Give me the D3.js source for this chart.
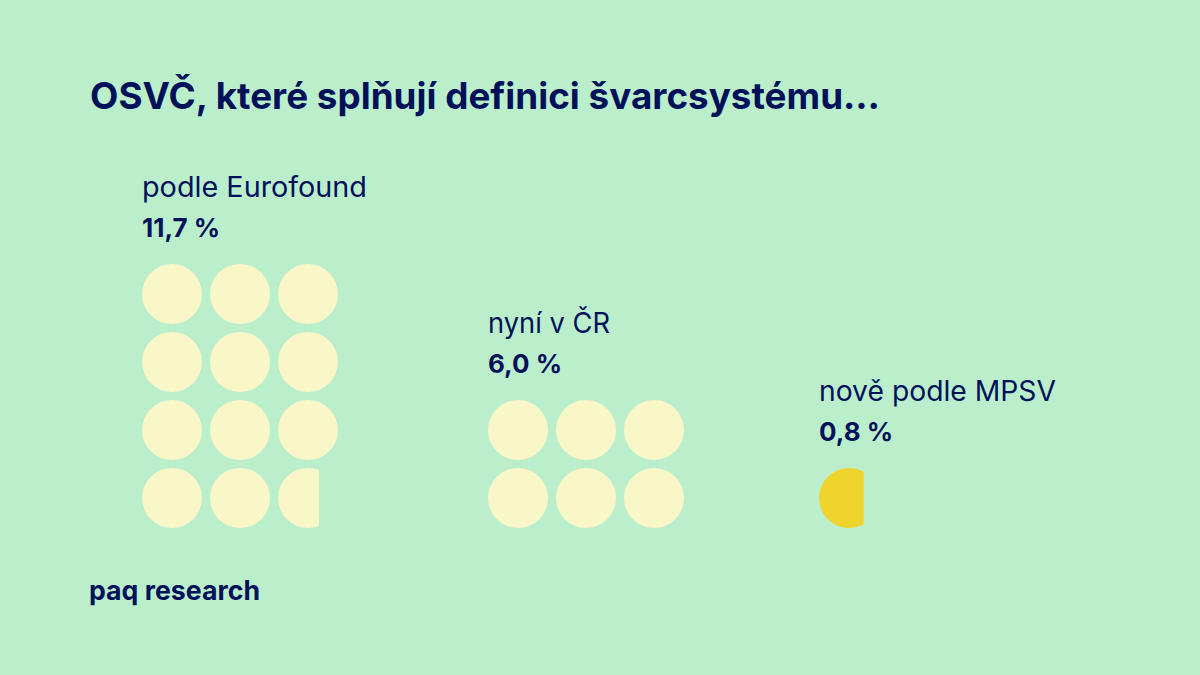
<!DOCTYPE html>
<html>
<head>
<meta charset="utf-8">
<script src="https://cdn.jsdelivr.net/npm/d3@7"></script>
<style>
  html, body { margin: 0; padding: 0; background: #bbefcc; }
  text { font-family: Inter, sans-serif; fill: #00115a; }
</style>
</head>
<body>
<svg id="chart" width="1200" height="675"></svg>
<script>
// values
var groupNames = ["podle Eurofound", "nyní v ČR", "nově podle MPSV"];
var groupValues = [11.7, 6.0, 0.8];
var groupColors = ["#f9f7c8", "#f9f7c8", "#f0d42e"];

var svg = d3.select("#chart");
var bottom = 528, size = 60, step = 68, rows = 3;

var xLeft = d3.scaleOrdinal().domain(groupNames).range([142, 488, 819]);
var labelWidth = d3.scaleOrdinal().domain(groupNames).range([225, 122, 237]);
// width of the visible part of a partly filled circle
var partWidth = d3.scaleLinear().domain([0, 0.7, 0.8, 1]).range([0, 41, 44.7, 60]);
var fmt = d3.format(".1f");

svg.append("text").attr("x", 90).attr("y", 108.5)
   .attr("font-size", 37).attr("font-weight", 750)
   .attr("textLength", 790).attr("lengthAdjust", "spacingAndGlyphs")
   .text("OSVČ, které splňují definici švarcsystému…");

groupNames.forEach(function(name, i) {
    var value = groupValues[i];
    var count = Math.ceil(value);
    var cells = d3.range(count).map(function(k) {
        var fill = Math.min(1, value - k);
        return {k: k, fill: Math.round(fill * 10) / 10};
    });
    var nrows = Math.ceil(count / rows);
    var top = bottom - nrows * step + (step - size);
    var x0 = xLeft(name);

    var g = svg.append("g");

    g.append("text").attr("x", x0).attr("y", top - 67)
     .attr("font-size", 28).attr("font-weight", 400)
     .attr("textLength", labelWidth(name)).attr("lengthAdjust", "spacingAndGlyphs")
     .text(name);
    g.append("text").attr("x", x0).attr("y", top - 27)
     .attr("font-size", 26).attr("font-weight", 750)
     .text(fmt(value).replace(".", ",") + " %");

    cells.forEach(function(c) {
        var cx = x0 + (c.k % rows) * step + size / 2;
        var cy = top + Math.floor(c.k / rows) * step + size / 2;
        var id = "clip" + i + "_" + c.k;
        if (c.fill < 1) {
            g.append("clipPath").attr("id", id).append("rect")
             .attr("x", cx - size / 2).attr("y", cy - size / 2)
             .attr("width", partWidth(c.fill)).attr("height", size);
        }
        var circle = g.append("circle").attr("cx", cx).attr("cy", cy).attr("r", size / 2)
         .attr("fill", groupColors[i]);
        if (c.fill < 1) circle.attr("clip-path", "url(#" + id + ")");
    });
});

svg.append("text").attr("x", 89).attr("y", 600)
   .attr("font-size", 27).attr("font-weight", 750)
   .attr("textLength", 171).attr("lengthAdjust", "spacingAndGlyphs")
   .text("paq research");
</script>
</body>
</html>
